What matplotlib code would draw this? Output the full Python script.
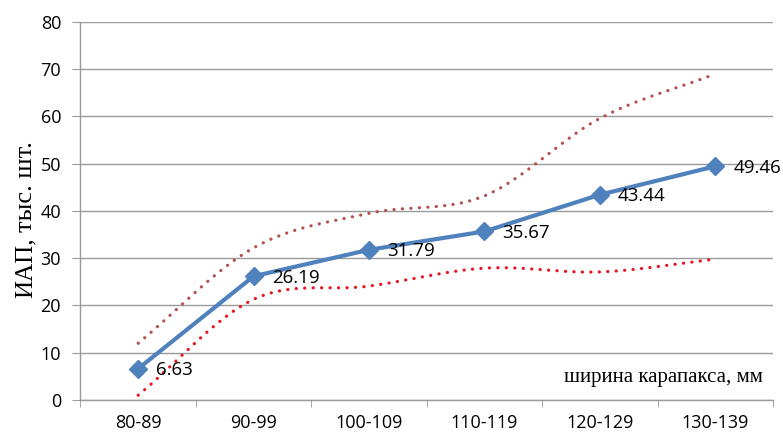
import numpy as np
import matplotlib
matplotlib.use("Agg")
import matplotlib.pyplot as plt

categories = ["80-89", "90-99", "100-109", "110-119", "120-129", "130-139"]
iap = [6.63, 26.19, 31.79, 35.67, 43.44, 49.46]
upper = [12.0, 32.2, 39.5, 43.2, 59.6, 69.0]
lower = [1.0, 21.3, 24.1, 27.9, 27.1, 29.8]

BLUE = "#4f81bd"
UPPER_C = "#b5504f"
LOWER_C = "#e8141f"
GRID = "#9a9a9a"


def smooth(xs, ys, n=40):
    # Catmull-Rom through the points, like Excel's "smoothed line"
    xs = np.asarray(xs, float); ys = np.asarray(ys, float)
    px = np.concatenate([[2*xs[0]-xs[1]], xs, [2*xs[-1]-xs[-2]]])
    py = np.concatenate([[2*ys[0]-ys[1]], ys, [2*ys[-1]-ys[-2]]])
    ox, oy = [], []
    t = np.linspace(0, 1, n, endpoint=False)
    for i in range(1, len(px)-2):
        for p, out in ((px, ox), (py, oy)):
            p0, p1, p2, p3 = p[i-1], p[i], p[i+1], p[i+2]
            out.extend(0.5*((2*p1) + (-p0+p2)*t + (2*p0-5*p1+4*p2-p3)*t**2
                            + (-p0+3*p1-3*p2+p3)*t**3))
    ox.append(xs[-1]); oy.append(ys[-1])
    return np.array(ox), np.array(oy)


fig = plt.figure(figsize=(7.83, 4.37), dpi=100)
ax = fig.add_axes([0.1028, 0.0847, 0.8844, 0.865])

x = np.arange(len(categories))
ux, uy = smooth(x, upper)
lx, ly = smooth(x, lower)
dots = (0, (0.05, 2.6))
ax.plot(ux, uy, color=UPPER_C, lw=2.3, ls=dots, dash_capstyle="round", zorder=3)
ax.plot(lx, ly, color=LOWER_C, lw=2.3, ls=dots, dash_capstyle="round", zorder=3)
ax.plot(x, iap, color=BLUE, lw=3.0, marker="D", ms=9, zorder=4)
for xi, v in zip(x, iap):
    ax.annotate(f"{v:.2f}", xy=(xi, v), xytext=(13, -1), textcoords="offset points",
                ha="left", va="center", fontsize=13.5, family="Open Sans", color="black",
                zorder=5)

ax.set_xlim(-0.5, len(categories)-0.5)
ax.set_ylim(0, 80)
ax.set_yticks(range(0, 81, 10))
ax.set_xticks(x)
ax.set_xticklabels(categories)
ax.set_xticks(np.arange(-0.5, len(categories), 1), minor=True)
ax.tick_params(axis="x", which="major", length=0, pad=10)
ax.tick_params(axis="x", which="minor", length=5, color=GRID, direction="out")
ax.tick_params(axis="y", length=6, color=GRID, direction="out", pad=8)
for lab in ax.get_xticklabels() + ax.get_yticklabels():
    lab.set_fontfamily("Open Sans")
    lab.set_fontsize(13)
    lab.set_color("black")
ax.grid(axis="y", color=GRID, lw=1.0)
ax.set_axisbelow(True)
for side in ("top", "right"):
    ax.spines[side].set_visible(False)
ax.spines["left"].set_color(GRID)
ax.spines["bottom"].set_color(GRID)
ax.spines["left"].set_linewidth(1.0)
ax.spines["bottom"].set_linewidth(1.0)

# y-axis title, two parts sharing one baseline
fig.text(32/783, 1-268/437, "ИАП,", rotation=90, rotation_mode="anchor",
         ha="center", va="baseline", family="Liberation Serif", fontsize=18)
fig.text(32/783, 1-187/437, "тыс. шт.", rotation=90, rotation_mode="anchor",
         ha="center", va="baseline", family="Liberation Serif", fontsize=19)
ax.text(0.985, 0.06, "ширина карапакса, мм", transform=ax.transAxes, ha="right",
        va="center", family="Liberation Serif", fontsize=15)

fig.savefig("out.png", dpi=100)
